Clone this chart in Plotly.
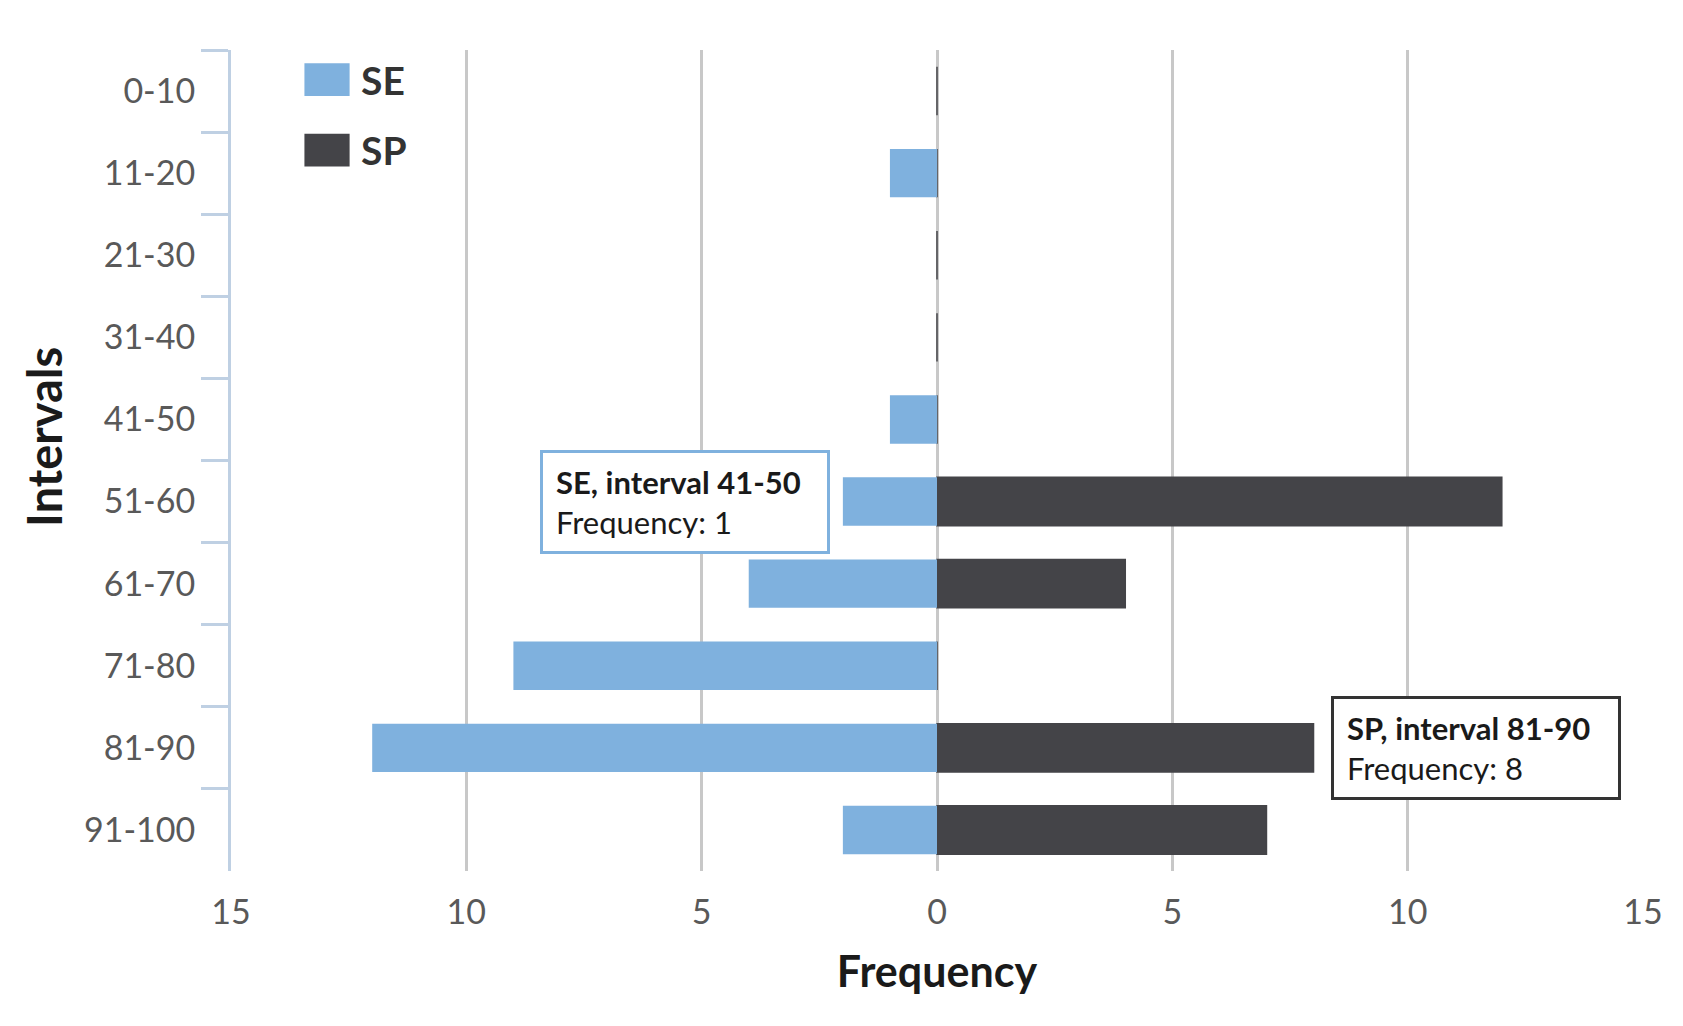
import plotly.graph_objects as go

intervals = ["0-10", "11-20", "21-30", "31-40", "41-50", "51-60", "61-70", "71-80", "81-90", "91-100"]
se_freq = [0, 1, 0, 0, 1, 2, 4, 9, 12, 2]
sp_freq = [0, 0, 0, 0, 0, 12, 4, 0, 8, 7]
x_tickvals = [-15, -10, -5, 0, 5, 10, 15]
x_ticktext = ["15", "10", "5", "0", "5", "10", "15"]

SE_COLOR = "#7FB1DE"
SP_COLOR = "#444448"
FONT = "Lato"

fig = go.Figure()
fig.add_trace(go.Bar(
    y=intervals, x=sp_freq, orientation="h", name="SP",
    marker=dict(color=SP_COLOR, line=dict(color=SP_COLOR, width=1.5)),
    showlegend=False,
))
fig.add_trace(go.Bar(
    y=intervals, x=[-v for v in se_freq], orientation="h", name="SE",
    marker=dict(color=SE_COLOR, line=dict(width=0)),
    showlegend=False,
))

# custom legend (large swatches)
legend_items = [("SE", SE_COLOR, 0.984, 0.944), ("SP", SP_COLOR, 0.898, 0.858)]
for name, col, y1, y0 in legend_items:
    fig.add_shape(type="rect", xref="paper", yref="paper", x0=0.052, x1=0.084, y0=y0, y1=y1,
                  fillcolor=col, line=dict(width=0))
    fig.add_annotation(xref="paper", yref="paper", x=0.0905, y=(y0 + y1) / 2, text=f"<b>{name}</b>",
                       showarrow=False, xanchor="left", yanchor="middle",
                       font=dict(family=FONT, size=39, color="#333333"))

# callout boxes
fig.add_annotation(x=-5.35, y="51-60", xref="x", yref="y",
                   text="<b>SE, interval 41-50</b><br>Frequency: 1",
                   showarrow=False, align="left", width=258, height=72, borderpad=13,
                   bordercolor="#7FB1DE", borderwidth=3, bgcolor="white",
                   font=dict(family=FONT, size=31, color="#1a1a1a"))
fig.add_annotation(x=11.46, y="81-90", xref="x", yref="y",
                   text="<b>SP, interval 81-90</b><br>Frequency: 8",
                   showarrow=False, align="left", width=258, height=72, borderpad=13,
                   bordercolor="#333333", borderwidth=3, bgcolor="white",
                   font=dict(family=FONT, size=31, color="#1a1a1a"))

# y axis title placed like the reference (slightly above centre)
fig.add_annotation(xref="paper", yref="paper", x=-0.133, y=0.529, text="<b>Intervals</b>",
                   textangle=-90, showarrow=False, xanchor="center", yanchor="middle",
                   font=dict(family=FONT, size=47, color="#1a1a1a"))

fig.update_layout(
    width=1683, height=1026,
    margin=dict(l=223, r=48, t=42, b=163),
    paper_bgcolor="white", plot_bgcolor="white",
    barmode="relative", bargap=0.41,
    font=dict(family=FONT, color="#595959"),
)
fig.update_xaxes(
    range=[-15, 15], tickvals=x_tickvals, ticktext=x_ticktext,
    showgrid=True, gridcolor="#C8C8C8", gridwidth=3, zeroline=False,
    showline=False, ticks="", ticklabelstandoff=18,
    tickfont=dict(family=FONT, size=34, color="#595959"),
    title=dict(text="<b>Frequency</b>", font=dict(family=FONT, size=43, color="#1a1a1a"), standoff=26),
)
fig.update_yaxes(
    autorange="reversed", showgrid=False, zeroline=False,
    showline=True, linecolor="#BFD0E3", linewidth=3,
    ticks="outside", tickson="boundaries", ticklen=27, tickwidth=3, tickcolor="#BFD0E3",
    ticklabelstandoff=26,
    tickfont=dict(family=FONT, size=34, color="#595959"),
)

fig.write_html("out.html")
